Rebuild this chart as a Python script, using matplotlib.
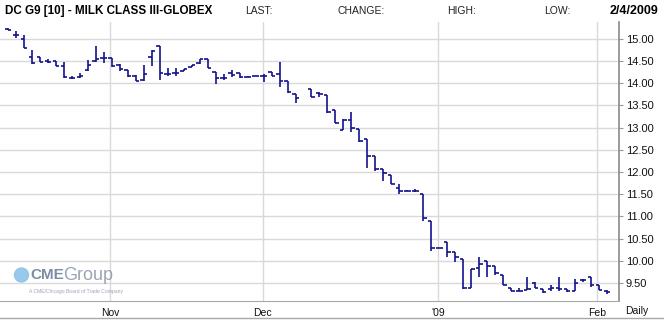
import numpy as np
import matplotlib.pyplot as plt
from matplotlib.lines import Line2D
from matplotlib.patches import Ellipse

# Daily OHLC bars for DC G9 (Milk Class III, Globex), Oct 2008 - Feb 2009.
# One value per trading session; NaN marks the session with no bar.

nan = np.nan

opens = [15.22, 15.08, 15.00, 14.60, 14.60, 14.50, 14.50, 14.39, 14.12, 14.13,
         14.30, 14.51, 14.56, 14.57, 14.40, 14.29, 14.16, 14.07, 14.60, 14.84,
         14.20, 14.24, 14.28, 14.36, 14.45, 14.54, 14.26, 14.11, 14.22, 14.22,
         14.15, 14.17, 14.16, 14.25, 14.20, 14.05, 13.76, nan, 13.86, 13.77,
         13.73, 13.40, 12.94, 13.17, 12.96, 12.74, 12.35, 12.06, 11.94, 11.65,
         11.58, 11.58, 11.51, 10.89, 10.28, 10.43, 10.20, 10.03, 9.39, 9.83,
         10.00, 9.89, 9.68, 9.38, 9.33, 9.34, 9.51, 9.37, 9.36, 9.39,
         9.36, 9.33, 9.56, 9.63, 9.45, 9.33]

highs = [15.24, 15.18, 15.09, 14.75, 14.60, 14.54, 14.50, 14.48, 14.17, 14.22,
         14.52, 14.84, 14.70, 14.57, 14.43, 14.29, 14.18, 14.41, 14.75, 14.84,
         14.34, 14.34, 14.33, 14.42, 14.55, 14.54, 14.26, 14.20, 14.30, 14.22,
         14.17, 14.17, 14.20, 14.25, 14.47, 14.05, 13.76, nan, 13.86, 13.80,
         13.73, 13.40, 13.19, 13.36, 12.96, 12.74, 12.35, 12.06, 11.94, 11.72,
         11.59, 11.62, 11.51, 10.89, 10.28, 10.43, 10.20, 10.03, 9.81, 10.09,
         10.00, 9.89, 9.68, 9.38, 9.38, 9.64, 9.52, 9.37, 9.45, 9.64,
         9.36, 9.58, 9.59, 9.63, 9.45, 9.35]

lows = [15.19, 15.01, 14.79, 14.43, 14.47, 14.46, 14.38, 14.12, 14.10, 14.12,
        14.27, 14.48, 14.45, 14.37, 14.28, 14.15, 14.04, 14.05, 14.38, 14.08,
        14.17, 14.17, 14.28, 14.36, 14.44, 14.34, 13.98, 14.07, 14.14, 14.12,
        14.13, 14.17, 14.03, 14.16, 13.92, 13.79, 13.56, nan, 13.70, 13.68,
        13.32, 13.11, 12.94, 12.91, 12.68, 12.09, 12.03, 11.80, 11.72, 11.50,
        11.57, 11.55, 10.89, 10.23, 10.28, 10.09, 9.98, 9.36, 9.39, 9.64,
        9.64, 9.68, 9.45, 9.33, 9.31, 9.34, 9.39, 9.28, 9.33, 9.33,
        9.30, 9.33, 9.52, 9.41, 9.34, 9.25]

closes = [15.20, 15.08, 14.80, 14.45, 14.48, 14.47, 14.39, 14.14, 14.12, 14.17,
          14.40, 14.54, 14.57, 14.38, 14.31, 14.16, 14.06, 14.21, 14.73, 14.23,
          14.21, 14.24, 14.31, 14.42, 14.54, 14.34, 14.11, 14.11, 14.18, 14.15,
          14.15, 14.17, 14.16, 14.16, 14.05, 13.80, 13.66, nan, 13.70, 13.76,
          13.34, 13.11, 13.17, 13.00, 12.70, 12.35, 12.07, 11.98, 11.73, 11.58,
          11.58, 11.58, 10.96, 10.28, 10.28, 10.19, 10.08, 9.39, 9.81, 9.93,
          9.89, 9.72, 9.45, 9.33, 9.33, 9.36, 9.39, 9.30, 9.39, 9.37,
          9.33, 9.51, 9.56, 9.45, 9.34, 9.30]

price_ticks = [9.5, 10.0, 10.5, 11.0, 11.5, 12.0, 12.5, 13.0, 13.5, 14.0, 14.5, 15.0]

month_labels = ["Nov", "Dec", "'09", "Feb"]
month_pos = [12.8, 31.9, 53.9, 73.8]

bar_color = "#12128c"
grid_color = "#d9d9d9"

plt.rcParams["font.family"] = ["Liberation Sans", "DejaVu Sans"]

fig = plt.figure(figsize=(6.64, 3.25), dpi=100)
ax = fig.add_axes([0, 24 / 325, 619 / 664, 279 / 325])

# OHLC bars: high-low stem, open tick on the left, close tick on the right.

day = np.arange(len(opens))
tick = 0.42

ax.vlines(day, lows, highs, color=bar_color, lw=1.2)
ax.hlines(opens, day - tick, day, color=bar_color, lw=1.2)
ax.hlines(closes, day, day + tick, color=bar_color, lw=1.2)

ax.set_xlim(-1.0, 76.5)
ax.set_ylim(9.095, 15.378)

ax.set_yticks(price_ticks)
ax.set_yticklabels([f"{p:.2f}" for p in price_ticks])
ax.yaxis.tick_right()
ax.tick_params(axis="y", length=3, color="#9a9a9a", labelsize=8, pad=2,
               labelcolor="#111111")

ax.set_xticks(month_pos)
ax.set_xticklabels(month_labels)
ax.tick_params(axis="x", length=0, labelsize=7.5, pad=5, labelcolor="#111111")

ax.grid(True, color=grid_color, lw=1.0)
ax.set_axisbelow(True)

for side in ["top", "left"]:
    ax.spines[side].set_visible(False)
ax.spines["right"].set_color("#8a8a8a")
ax.spines["right"].set_linewidth(1.2)
ax.spines["bottom"].set_color("#a8a8a8")

# Header row.

fig.text(5 / 664, 1 - 11 / 325, "DC G9 [10] - MILK CLASS III-GLOBEX",
         fontsize=8.4, fontweight="bold", va="center")
for label, x in [("LAST:", 245), ("CHANGE:", 338), ("HIGH:", 447), ("LOW:", 544)]:
    fig.text(x / 664, 1 - 11 / 325, label, fontsize=7.5, va="center", color="#222222")
fig.text(658 / 664, 1 - 11 / 325, "2/4/2009", fontsize=9, fontweight="bold",
         va="center", ha="right")

fig.text(625 / 664, 1 - 311 / 325, "Daily", fontsize=7.5, va="center", color="#111111")

# Bottom frame line under the date labels.

fig.add_artist(Line2D([0, 1], [1 - 318 / 325] * 2, color="#a8a8a8", lw=1.0))

# CME Group watermark logo.

fig.add_artist(Ellipse((21.5 / 664, 1 - 275 / 325), 14 / 664, 14 / 325,
                       transform=fig.transFigure, color="#8cc4ea", alpha=0.9))
fig.text(30 / 664, 1 - 275 / 325, "CME", fontsize=11, fontweight="bold",
         color="#7c8ca3", va="center")
fig.text(63 / 664, 1 - 275 / 325, "Group", fontsize=13, color="#9aa5b5", va="center")
fig.text(29 / 664, 1 - 292 / 325, "A CME/Chicago Board of Trade Company",
         fontsize=3.6, color="#9aa5b5", va="center")

fig.savefig("out.png", dpi=100)
